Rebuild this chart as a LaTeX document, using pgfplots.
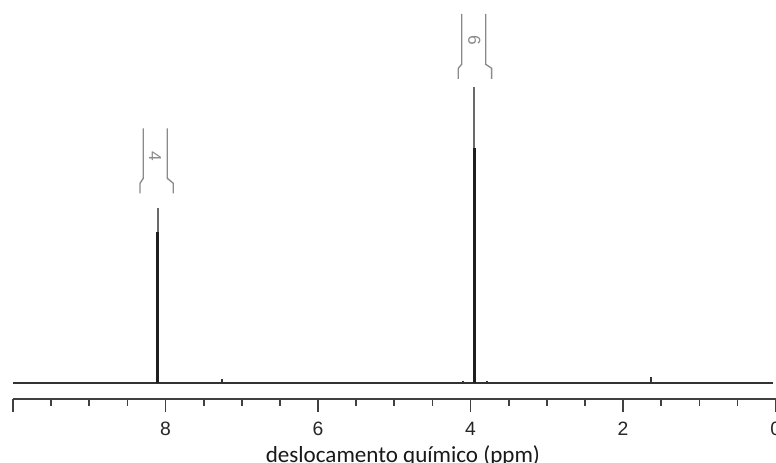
\documentclass[border=0pt]{standalone}
\usepackage{fontspec}
\setmainfont{Liberation Sans}
\newfontfamily\carlito{Carlito}
\usepackage{pgfplots}
\pgfplotsset{compat=1.18}

\definecolor{specline}{HTML}{333333}
\definecolor{peaktop}{HTML}{6A6A6A}
\definecolor{integ}{HTML}{8A8A8A}

\begin{document}
\begin{tikzpicture}
\begin{axis}[name=ax,
  scale only axis, width=572pt, height=299.25pt,
  x dir=reverse, xmin=0, xmax=10, ymin=-16, ymax=383,
  axis x line*=bottom, axis y line=none,
  axis line style={-, line width=1.3pt, color=black!75},
  xtick={0,2,4,6,8,10}, xticklabels={0,2,4,6,8,{}},
  minor x tick num=3,
  tick align=outside,
  major tick length=9.75pt, minor tick length=5.25pt,
  tick style={line width=1.3pt, color=black!75},
  /pgf/number format/assume math mode=true,
  xticklabel style={font=\fontsize{14.5}{16}\selectfont, text=black!85, yshift=-4pt},
  xlabel={\carlito deslocamento químico (ppm)},
  xlabel style={at={(axis cs:4.887,-16)}, anchor=base, yshift=-47.5pt,
    font=\fontsize{17.3}{19}\selectfont, text=black!90},
  clip=false,
]
% baseline of the spectrum
\addplot[line width=1.5pt, color=specline] coordinates {(10,0) (0.03,0)};
% peaks: lighter top, darker lower part
\addplot[ycomb, no marks, line width=1.5pt, color=peaktop] coordinates {(8.10,175) (3.952,296)};
\addplot[ycomb, no marks, line width=2.4pt, color=black!88] coordinates {(8.10,151) (3.952,235)};
\addplot[ycomb, no marks, line width=1.5pt, color=specline] coordinates {(7.26,4) (1.63,6) (4.10,2) (3.78,2)};
% integral brackets
\addplot[line width=1pt, color=integ] coordinates {(8.292,254.7) (8.292,204.7) (8.335,199.7) (8.335,189.7)};
\addplot[line width=1pt, color=integ] coordinates {(7.977,254.7) (7.977,204.7) (7.898,199.7) (7.898,189.7)};
\addplot[line width=1pt, color=integ] coordinates {(4.117,369) (4.117,318.7) (4.162,314.7) (4.162,304)};
\addplot[line width=1pt, color=integ] coordinates {(3.802,369) (3.802,318.7) (3.724,314.7) (3.724,304)};
\node[rotate=-90, text=integ, font=\fontsize{13}{15}\selectfont] at (axis cs:8.138,226.3) {4};
\node[rotate=-90, text=integ, font=\fontsize{13}{15}\selectfont] at (axis cs:3.952,343) {6};
\end{axis}
\pgfresetboundingbox
\path (ax.south west) ++(-9.75pt,-48pt) coordinate (bb1);
\path (ax.south west) ++(572.25pt,299.25pt) coordinate (bb2);
\path[use as bounding box] (bb1) rectangle (bb2);
\end{tikzpicture}
\end{document}
